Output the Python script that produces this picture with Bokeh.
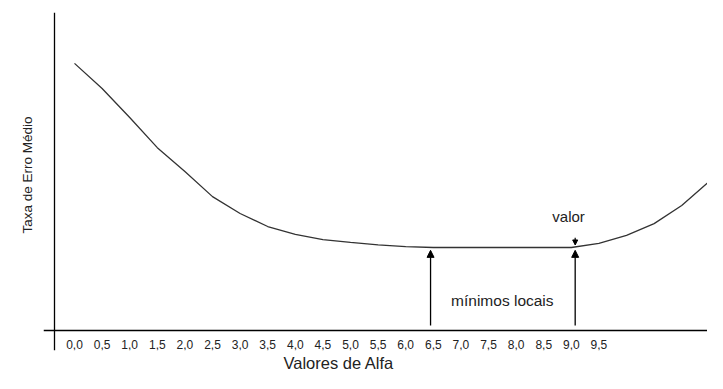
import math
from bokeh.plotting import figure
from bokeh.models import (LinearAxis, FixedTicker, Range1d, Arrow, NormalHead, Label,
                          ColumnDataSource, Title)
from bokeh.embed import file_html
from bokeh.resources import INLINE

# ---- data ----
alpha = [0.0, 0.5, 1.0, 1.5, 2.0, 2.5, 3.0, 3.5, 4.0, 4.5, 5.0, 5.5, 6.0,
         6.5, 7.0, 7.5, 8.0, 8.5, 9.0, 9.5, 10.0, 10.5, 11.0, 11.5, 12.0]
taxa_erro = [84.0, 76.1, 67.0, 57.5, 50.0, 42.1, 36.8, 32.7, 30.2, 28.6, 27.7, 26.9, 26.4,
             26.1, 26.1, 26.1, 26.1, 26.1, 26.1, 27.4, 29.9, 33.6, 39.3, 46.9, 55.3]
tick_values = [0.0, 0.5, 1.0, 1.5, 2.0, 2.5, 3.0, 3.5, 4.0, 4.5,
               5.0, 5.5, 6.0, 6.5, 7.0, 7.5, 8.0, 8.5, 9.0, 9.5]
tick_labels = ["0,0", "0,5", "1,0", "1,5", "2,0", "2,5", "3,0", "3,5", "4,0", "4,5",
               "5,0", "5,5", "6,0", "6,5", "7,0", "7,5", "8,0", "8,5", "9,0", "9,5"]
minimos_alpha = [6.45, 9.07]
minimo_valor = 26.1

x_title = "Valores de Alfa"
y_title = "Taxa de Erro Médio"
txt_minimos = "mínimos locais"
txt_valor = "valor"

FONT = "Liberation Sans"
TXT = "#222222"

p = figure(width=707, height=373, output_backend="svg", toolbar_location=None,
           x_range=Range1d(-0.5616, 11.467), y_range=Range1d(-6.29, 100.0),
           x_axis_location=None, y_axis_location=None,
           min_border_left=43, min_border_right=0, min_border_top=12, min_border_bottom=23)
p.outline_line_color = None
p.xgrid.visible = False
p.ygrid.visible = False
p.background_fill_color = "white"
p.border_fill_color = "white"

# x axis at y = 0 with the tick labels
xax = LinearAxis(ticker=FixedTicker(ticks=tick_values), fixed_location=0)
xax.major_label_overrides = {v: s for v, s in zip(tick_values, tick_labels)}
xax.major_tick_line_color = None
xax.minor_tick_line_color = None
xax.major_tick_out = 0
xax.major_label_standoff = 10
xax.major_label_text_font = FONT
xax.major_label_text_font_size = "12px"
xax.major_label_text_color = TXT
xax.axis_line_color = "black"
xax.axis_line_width = 1.3
p.add_layout(xax, "below")

# y axis line, no ticks
yax = LinearAxis(ticker=FixedTicker(ticks=[]), fixed_location=-0.362)
yax.major_tick_line_color = None
yax.minor_tick_line_color = None
yax.major_tick_out = 0
yax.major_label_standoff = 0
yax.major_label_text_font_size = "0px"
yax.axis_line_color = "black"
yax.axis_line_width = 1.3
p.add_layout(yax, "left")

# axis titles
p.add_layout(Title(text=x_title, align="left", offset=240, standoff=3,
                   text_font=FONT, text_font_size="16.5px", text_font_style="normal",
                   text_color=TXT), "below")
p.add_layout(Title(text=y_title, align="left", offset=117, standoff=17,
                   text_font=FONT, text_font_size="13.5px", text_font_style="normal",
                   text_color=TXT), "left")

# curve
src = ColumnDataSource(dict(x=alpha, y=taxa_erro))
p.line("x", "y", source=src, line_color="#333333", line_width=1.3)

# arrows to the local minima
for a in minimos_alpha:
    p.add_layout(Arrow(end=NormalHead(size=7, fill_color="black", line_color="black"),
                       x_start=a, y_start=1.6, x_end=a, y_end=minimo_valor - 0.9,
                       line_color="black", line_width=1.3))
# small arrow from "valor"
p.add_layout(Arrow(end=NormalHead(size=5, fill_color="black", line_color="black"),
                   x_start=minimos_alpha[1], y_start=minimo_valor + 3.1,
                   x_end=minimos_alpha[1], y_end=minimo_valor + 0.8,
                   line_color="black", line_width=1.2))

p.add_layout(Label(x=8.95, y=35.8, text=txt_valor, text_font=FONT, text_font_size="15px",
                   text_color=TXT, text_align="center", text_baseline="middle"))
p.add_layout(Label(x=7.75, y=9.4, text=txt_minimos, text_font=FONT, text_font_size="15.5px",
                   text_color=TXT, text_align="center", text_baseline="middle"))

open("out.html", "w").write(file_html(p, INLINE))
